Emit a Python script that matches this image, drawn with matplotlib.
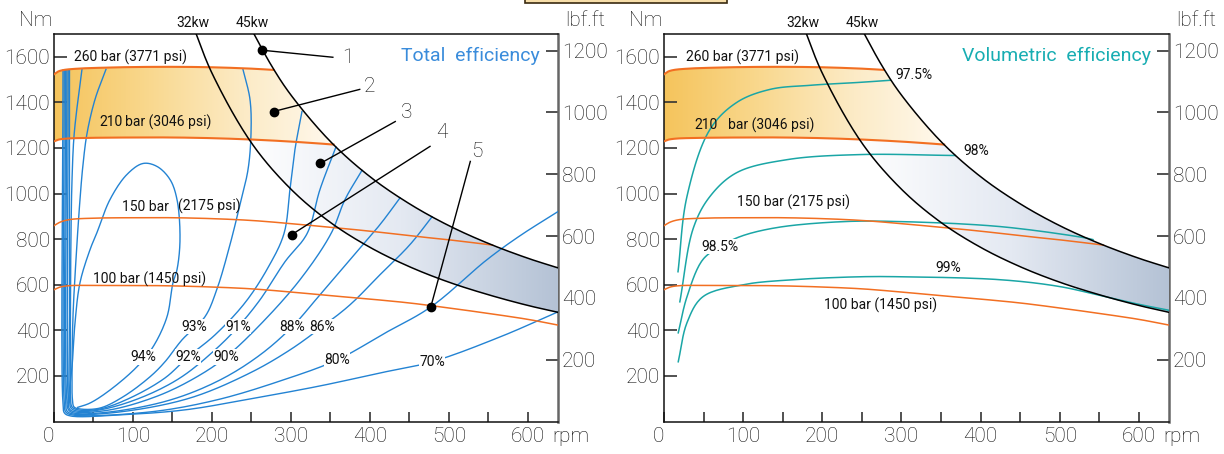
import numpy as np
import matplotlib
matplotlib.use('Agg')
import matplotlib.pyplot as plt
from matplotlib.patches import Polygon, Rectangle
from matplotlib.colors import LinearSegmentedColormap

plt.rcParams['font.family'] = ['Roboto', 'DejaVu Sans']
plt.rcParams['font.weight'] = 'light'

# ---- pressure lines (rpm, Nm) ----
p260_rpm = [0, 5, 12, 30, 60, 100, 150, 200, 250, 280, 300]
p260_nm = [1523, 1535, 1542, 1548, 1552, 1555, 1556, 1554, 1548, 1542, 1538]
p210_rpm = [0, 5, 15, 40, 100, 150, 200, 250, 300, 350, 370]
p210_nm = [1229, 1236, 1241, 1244, 1246, 1246, 1243, 1237, 1228, 1216, 1210]
p150_rpm = [0, 8, 20, 50, 100, 150, 200, 250, 300, 350, 400, 450, 500, 560]
p150_nm = [859, 875, 886, 892, 894, 894, 890, 882, 868, 852, 835, 815, 797, 772]
p100_rpm = [0, 8, 20, 50, 100, 150, 200, 250, 300, 350, 400, 450, 500, 550, 600, 638]
p100_nm = [578, 590, 596, 597, 597, 595, 590, 582, 568, 552, 537, 520, 498, 474, 448, 423]

# ---- power lines ----
kw32_rpm = [176, 200, 250, 300, 350, 400, 450, 500, 550, 600, 638]
kw32_nm = [1736, 1528, 1222, 1019, 873, 764, 679, 611, 556, 509, 479]
kw45_rpm = [247, 275, 300, 350, 400, 450, 500, 550, 600, 638]
kw45_nm = [1740, 1563, 1432, 1228, 1074, 955, 859, 781, 716, 674]

# ---- total efficiency contours ----
eff94 = ([17.7, 22.8, 26.6, 32.9, 45.6, 54.4, 70.9, 92.4, 112.7, 130.4, 146.8, 155.7, 159.5, 155.7, 150.6, 143, 125.3, 105, 70.9, 45.6, 30],
         [81, 240, 433, 609, 754, 829, 974, 1084, 1132, 1119, 1062, 974, 798, 666, 609, 459, 327, 240, 138, 81, 62])
eff93 = ([65.8, 51.9, 41.8, 36.7, 32.9, 27.8, 24, 22.8, 23.4, 25.3, 32.9, 58.2, 87.3, 121.5, 140.5, 162, 191, 206, 222.8, 235.4, 245.6, 249.4, 248.1, 239.2],
         [1545, 1413, 1264, 1127, 974, 710, 459, 226, 94, 64, 55, 59, 108, 196, 262, 358, 459, 578, 776, 952, 1105, 1264, 1413, 1545])
eff92 = ([35.4, 30.4, 25.3, 22.8, 21.5, 20.9, 20.6, 20.9, 22.8, 30.4, 58.2, 96.2, 140.5, 169.6, 203.8, 241.8, 270.9, 291.1, 298.7, 305, 313.9],
         [1545, 1413, 1251, 1061, 824, 534, 226, 103, 64, 51, 55, 103, 191, 283, 380, 521, 675, 824, 1018, 1193, 1360])
eff91 = ([19.6, 19.6, 19.6, 21.5, 29.1, 58.2, 108.9, 159.5, 203.8, 232.9, 260.8, 292.4, 320.3, 336.7, 356.9],
         [1542, 534, 94, 59, 46, 51, 103, 191, 314, 415, 534, 701, 824, 1018, 1204])
eff90 = ([18, 18, 19.6, 26.6, 70.9, 134.2, 184.8, 217.7, 260.8, 311.4, 350.6, 368.4, 389.9],
         [1542, 94, 55, 42, 51, 116, 204, 283, 424, 622, 824, 974, 1102])
eff88 = ([16.3, 16.3, 18.4, 25.3, 70.9, 146.8, 210.1, 260.8, 301.3, 336.7, 374.7, 412.7, 438],
         [1542, 90, 51, 37, 42, 94, 182, 292, 415, 556, 710, 864, 981])
eff86 = ([14.7, 14.7, 16.5, 24, 83.5, 172.2, 248.1, 298.7, 339.2, 374.7, 412.7, 450.6, 478.5],
         [1542, 86, 46, 33, 42, 103, 213, 314, 415, 512, 644, 776, 898])
eff80 = ([13, 13, 14.9, 22.8, 121.5, 206.3, 289.9, 358.2, 419, 477.2, 548.1, 589.9, 638],
         [1542, 81, 42, 29, 42, 95, 182, 270, 388, 503, 710, 815, 921])
eff70 = ([11.4, 11.4, 13.3, 21.5, 83.5, 165.8, 248.1, 336.7, 412.7, 478.5, 564.6, 638],
         [1542, 77, 37, 24, 29, 51, 99, 156, 213, 262, 371, 481])
total_curves = [eff94, eff93, eff92, eff91, eff90, eff88, eff86, eff80, eff70]
total_labels = ['94%', '93%', '92%', '91%', '90%', '88%', '86%', '80%', '70%']
total_label_rpm = [112.7, 177, 169.6, 232.9, 217.7, 301.3, 339.2, 358.2, 478.5]
total_label_nm = [283, 415, 283, 415, 283, 415, 415, 270, 262]

# ---- volumetric efficiency ----
ve975 = ([17.7, 29, 58, 92, 134, 185, 248, 286], [657, 987, 1281, 1400, 1457, 1475, 1488, 1497])
ve98 = ([20, 37, 58, 92, 156, 248, 368], [525, 848, 987, 1092, 1149, 1171, 1167])
ve985 = ([18, 29, 49, 71, 96, 143, 227, 299, 425, 530, 542], [389, 547, 710, 767, 811, 851, 877, 877, 855, 807, 798])
ve99 = ([18, 29, 49, 100, 163, 248, 299, 425, 500, 552, 600, 638], [262, 433, 547, 600, 622, 635, 635, 622, 592, 552, 514, 488])
vol_curves = [ve975, ve98, ve985, ve99]
vol_labels = ['97.5%', '98%', '98.5%', '99%']
vol_label_rpm = [316, 395, 71, 359]
vol_label_nm = [1518, 1185, 767, 675]

# ---- callouts 1..5: dot, leader end, label ----
call_dot = [(263, 1629), (278, 1360), (337, 1132), (301, 820), (477, 503)]
call_end = [(353, 1598), (387, 1457), (432, 1316), (476, 1207), (527, 1141)]
call_txt = [(372, 1598), (400, 1470), (447, 1356), (491, 1268), (535, 1185)]

BLUE = '#2383d3'
TEAL = '#1aa6a6'
ORANGE = '#f26f22'
K = 0.288  # Nm -> rpm visual scale for smoothing


def spline(xs, ys, n=24):
    P = np.column_stack([np.asarray(xs, float), np.asarray(ys, float) * K])
    P = np.vstack([2 * P[0] - P[1], P, 2 * P[-1] - P[-2]])
    out = []
    for i in range(1, len(P) - 2):
        p0, p1, p2, p3 = P[i - 1], P[i], P[i + 1], P[i + 2]
        t0 = 0.0
        t1 = t0 + max(np.linalg.norm(p1 - p0), 1e-6) ** 0.5
        t2 = t1 + max(np.linalg.norm(p2 - p1), 1e-6) ** 0.5
        t3 = t2 + max(np.linalg.norm(p3 - p2), 1e-6) ** 0.5
        t = np.linspace(t1, t2, n, endpoint=False)[:, None]
        a1 = (t1 - t) / (t1 - t0) * p0 + (t - t0) / (t1 - t0) * p1
        a2 = (t2 - t) / (t2 - t1) * p1 + (t - t1) / (t2 - t1) * p2
        a3 = (t3 - t) / (t3 - t2) * p2 + (t - t2) / (t3 - t2) * p3
        b1 = (t2 - t) / (t2 - t0) * a1 + (t - t0) / (t2 - t0) * a2
        b2 = (t3 - t) / (t3 - t1) * a2 + (t - t1) / (t3 - t1) * a3
        out.append((t2 - t) / (t2 - t1) * b1 + (t - t1) / (t2 - t1) * b2)
    out.append(P[-2][None, :])
    C = np.vstack(out)
    return C[:, 0], C[:, 1] / K


grid = np.linspace(0, 638, 1300)
s260 = spline(p260_rpm, p260_nm)
s210 = spline(p210_rpm, p210_nm)
s150 = spline(p150_rpm, p150_nm)
s100 = spline(p100_rpm, p100_nm)
s32 = spline(kw32_rpm, kw32_nm)
s45 = spline(kw45_rpm, kw45_nm)
g260 = np.interp(grid, *s260)
g210 = np.interp(grid, *s210)
g32 = np.interp(grid, *s32, left=5000)
g45 = np.interp(grid, *s45, left=5000)

orange_cmap = LinearSegmentedColormap.from_list('o', ['#f5c45c', '#f9d88e', '#fcebc6', '#fff9ef'])
blue_cmap = LinearSegmentedColormap.from_list('b', ['#ffffff', '#e4e9f2', '#b4c2d5'])


def band(ax, upper, lower, cmap, x0, x1):
    ok = upper > lower
    verts = np.vstack([np.column_stack([grid[ok], upper[ok]]),
                       np.column_stack([grid[ok][::-1], lower[ok][::-1]])])
    poly = Polygon(verts, closed=True, facecolor='none', edgecolor='none', transform=ax.transData)
    im = ax.imshow(np.linspace(0, 1, 256)[None, :], extent=[x0, x1, 0, 1700], cmap=cmap,
                   aspect='auto', origin='lower', interpolation='bilinear', zorder=1)
    im.set_clip_path(poly)


def pressure_line(ax, s, lw):
    x, y = s
    keep = y <= np.interp(x, *s45, left=5000) + 1
    ax.plot(x[keep], y[keep], color=ORANGE, lw=lw, zorder=3)


def small(ax, x, y, txt, **kw):
    ax.text(x, y, txt, ha='center', va='center', fontsize=10, fontweight='normal',
            color='#111', **kw)


def panel(ax, title, title_color):
    band(ax, np.minimum(g260, g45), g210, orange_cmap, 0, 360)
    band(ax, np.minimum(g45, g210), g32, blue_cmap, 240, 638)
    pressure_line(ax, s260, 1.5)
    pressure_line(ax, s210, 1.5)
    pressure_line(ax, s150, 1.1)
    pressure_line(ax, s100, 1.1)
    ax.plot(*s32, color='black', lw=1.1, zorder=4)
    ax.plot(*s45, color='black', lw=1.1, zorder=4)
    small(ax, 176, 1748, '32kw', clip_on=False)
    small(ax, 251, 1748, '45kw', clip_on=False)
    ax.text(615, 1603, title, ha='right', va='center', fontsize=14, fontweight='normal',
            color=title_color)

    ax.set_xlim(0, 638)
    ax.set_ylim(0, 1700)
    ax.set_xticks(range(0, 601, 100))
    ax.set_xticks(range(50, 601, 100), minor=True)
    ax.set_yticks(range(200, 1601, 200))
    ax.tick_params(axis='x', which='both', direction='in', length=7, width=1.2,
                   labelsize=15, pad=4, color='#333', labelcolor='#111')
    ax.tick_params(axis='y', direction='in', length=9.5, width=1.2, labelsize=15, pad=3,
                   color='#333', labelcolor='#111')
    ax.xaxis.get_major_ticks()[0].label1.set_horizontalalignment('right')
    for s in ['left', 'bottom', 'top']:
        ax.spines[s].set_linewidth(1.1)
        ax.spines[s].set_color('#111')
    ax.spines['right'].set_visible(False)
    sec = ax.secondary_yaxis('right', functions=(lambda v: v / 1.35582, lambda v: v * 1.35582))
    sec.set_yticks(range(200, 1201, 200))
    sec.tick_params(direction='in', length=9, width=1.2, labelsize=15, pad=3, color='#333',
                    labelcolor='#111')
    sec.spines['right'].set_color('#666')
    sec.spines['right'].set_linewidth(1.8)
    ax.annotate('rpm', xy=(1, 0), xycoords='axes fraction', xytext=(-4.3, -4.2),
                textcoords='offset points', ha='left', va='top', fontsize=15)


def label(ax, x, y, txt):
    small(ax, x, y, txt, zorder=6, bbox=dict(facecolor='white', edgecolor='none', pad=0.4))


fig = plt.figure(figsize=(12.24, 4.54), dpi=100)
axL = fig.add_axes([54 / 1224, 1 - 421.5 / 454, 504 / 1224, 387.5 / 454])
axR = fig.add_axes([664 / 1224, 1 - 421.5 / 454, 505 / 1224, 387.5 / 454])

# left: total efficiency
panel(axL, 'Total  efficiency', '#3a8cdb')
for c in total_curves:
    axL.plot(*spline(*c, n=16), color=BLUE, lw=1.0, zorder=2.5)
for x, y, t in zip(total_label_rpm, total_label_nm, total_labels):
    label(axL, x, y, t)
small(axL, 97, 1599, '260 bar (3771 psi)')
small(axL, 72, 1312, '210')
small(axL, 145, 1312, 'bar (3046 psi)')
small(axL, 116, 943, '150 bar')
small(axL, 197, 943, '(2175 psi)')
small(axL, 121, 622, '100 bar (1450 psi)')
for d, e, t, n in zip(call_dot, call_end, call_txt, range(1, 6)):
    axL.plot([d[0], e[0]], [d[1], e[1]], color='black', lw=1.0, zorder=7)
    axL.plot(*d, 'o', color='black', ms=6, zorder=8)
    axL.text(t[0], t[1], str(n), ha='center', va='center', fontsize=15, color='#111', zorder=8)

# right: volumetric efficiency
panel(axR, 'Volumetric  efficiency', '#17adb2')
for c in vol_curves:
    axR.plot(*spline(*c, n=16), color=TEAL, lw=1.1, zorder=2.5)
for x, y, t in zip(vol_label_rpm, vol_label_nm, vol_labels):
    if t == '98.5%':
        label(axR, x, y, t)
    else:
        small(axR, x, y, t, zorder=6)
small(axR, 99, 1599, '260 bar (3771 psi)')
small(axR, 53, 1299, '210')
small(axR, 135, 1299, 'bar (3046 psi)')
small(axR, 163, 960, '150 bar (2175 psi)')
small(axR, 273, 508, '100 bar (1450 psi)')

# axis unit labels and the cut-off box at the top
for x, t in [(36, 'Nm'), (585, 'lbf.ft'), (646, 'Nm'), (1196, 'lbf.ft')]:
    fig.text(x / 1224, 1 - 20 / 454, t, ha='center', va='center', fontsize=15, color='#111')
fig.patches.append(Rectangle((525 / 1224, 1 - 3 / 454), 202 / 1224, 0.05, transform=fig.transFigure,
                             facecolor='#f7dea9', edgecolor='#3a2a10', lw=1.2))

fig.savefig('out.png', dpi=100)
